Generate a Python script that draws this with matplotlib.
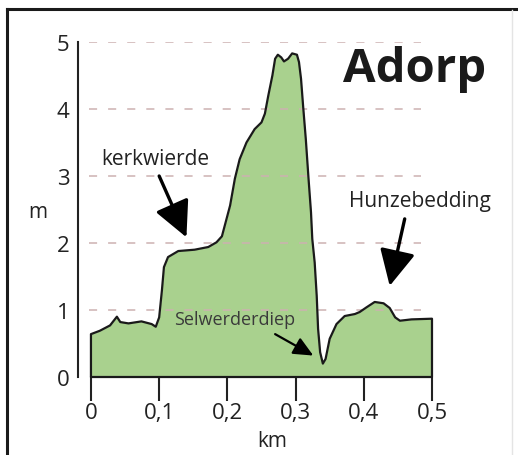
import matplotlib
matplotlib.use('Agg')
import matplotlib.pyplot as plt
from matplotlib.lines import Line2D

plt.rcParams['font.family'] = ['Open Sans', 'DejaVu Sans']

# ---- data ----
distance_km = [0.0, 0.013, 0.028, 0.038, 0.043, 0.055, 0.074, 0.089, 0.095, 0.100,
               0.104, 0.107, 0.113, 0.128, 0.152, 0.172, 0.184, 0.192, 0.204, 0.211,
               0.218, 0.228, 0.240, 0.250, 0.255, 0.260, 0.266, 0.270, 0.274, 0.279,
               0.283, 0.289, 0.295, 0.302, 0.305, 0.308, 0.311, 0.315, 0.319, 0.3226,
               0.3245, 0.328, 0.331, 0.333, 0.336, 0.340, 0.344, 0.350, 0.360, 0.372,
               0.387, 0.394, 0.404, 0.416, 0.429, 0.438, 0.446, 0.453, 0.470, 0.500]
elevation_m = [0.64, 0.69, 0.77, 0.90, 0.82, 0.80, 0.83, 0.79, 0.75, 0.89,
               1.29, 1.64, 1.79, 1.88, 1.90, 1.94, 2.01, 2.10, 2.56, 2.96,
               3.25, 3.50, 3.70, 3.80, 3.93, 4.20, 4.50, 4.75, 4.81, 4.77,
               4.71, 4.75, 4.83, 4.81, 4.70, 4.45, 4.05, 3.55, 2.96, 2.46,
               2.06, 1.71, 1.21, 0.72, 0.37, 0.20, 0.27, 0.57, 0.79, 0.91,
               0.94, 0.97, 1.04, 1.12, 1.10, 1.03, 0.89, 0.84, 0.86, 0.87]

x_ticks = [0, 0.1, 0.2, 0.3, 0.4, 0.5]
x_tick_labels = ['0', '0,1', '0,2', '0,3', '0,4', '0,5']
y_ticks = [0, 1, 2, 3, 4, 5]
y_tick_labels = ['0', '1', '2', '3', '4', '5']
grid_levels = [1, 2, 3, 4, 5]

title = 'Adorp'
x_label = 'km'
y_label = 'm'
label_kerk = 'kerkwierde'
label_hunze = 'Hunzebedding'
label_selw = 'Selwerderdiep'

# ---- figure ----
W, H = 518, 456
fig = plt.figure(figsize=(W / 100, H / 100), dpi=100)
ax = fig.add_axes([78 / W, (H - 378) / H, 357.4 / W, 335 / H])
ax.set_xlim(-0.019, 0.505)
ax.set_ylim(0, 5)

green = '#a9d18e'
ink = '#1a1a1a'

ax.fill_between(distance_km, elevation_m, 0, color=green, lw=0, zorder=1, clip_on=False)
outline_x = [distance_km[0]] + distance_km + [distance_km[-1], distance_km[0]]
outline_y = [0] + elevation_m + [0, 0]
ax.plot(outline_x, outline_y, color=ink, lw=1.6, solid_joinstyle='round',
        solid_capstyle='round', zorder=3, clip_on=False)

for lev in grid_levels:
    ax.axhline(lev, xmin=0.03, xmax=0.96, color='#cdb1b1', lw=1.1,
               linestyle=(0, (5.3, 7.2)), zorder=2)

for side in ['top', 'right', 'bottom']:
    ax.spines[side].set_visible(False)
ax.spines['left'].set_color('#222222')
ax.spines['left'].set_linewidth(1.5)

ax.set_xticks(x_ticks)
ax.set_xticklabels(x_tick_labels)
ax.set_yticks(y_ticks)
ax.set_yticklabels(y_tick_labels)
ax.tick_params(axis='x', length=17, width=1.5, color='#222222', pad=1,
               labelsize=16, labelcolor='#222222')
ax.tick_params(axis='y', length=0, pad=6, labelsize=16, labelcolor='#222222')
ax.set_facecolor('none')

ax.text(0.265, -1.03, x_label, ha='center', va='baseline', fontsize=15, color='#222222')
ax.text(-0.078, 2.39, y_label, ha='center', va='baseline', fontsize=15, color='#222222')

ax.text(0.475, 4.418, title, ha='center', va='baseline', fontsize=34,
        fontweight='bold', color=ink)

ax.text(0.094, 3.18, label_kerk, ha='center', va='baseline', fontsize=15, color='#222222')
ax.annotate('', xy=(0.140, 2.085), xytext=(0.100, 3.0),
            arrowprops=dict(arrowstyle='-|>,head_length=1.1,head_width=0.55',
                            mutation_scale=20, lw=2.4, color='black',
                            shrinkA=0, shrinkB=0))

ax.text(0.482, 2.55, label_hunze, ha='center', va='baseline', fontsize=15, color='#222222')
ax.annotate('', xy=(0.438, 1.36), xytext=(0.460, 2.36),
            arrowprops=dict(arrowstyle='-|>,head_length=1.1,head_width=0.55',
                            mutation_scale=20, lw=2.4, color='black',
                            shrinkA=0, shrinkB=0))

ax.text(0.210, 0.79, label_selw, ha='center', va='baseline', fontsize=13, color='#3a3a3a',
        zorder=4)
ax.annotate('', xy=(0.326, 0.32), xytext=(0.270, 0.64),
            arrowprops=dict(arrowstyle='-|>,head_length=1.2,head_width=0.55',
                            mutation_scale=10, lw=1.6, color='black',
                            shrinkA=0, shrinkB=0), zorder=4)

# frame of the original picture
fig.add_artist(Line2D([7 / W, 7 / W], [0, (H - 10) / H], transform=fig.transFigure,
                      color=ink, lw=2.2))
fig.add_artist(Line2D([7 / W, 1], [(H - 10) / H, (H - 10) / H], transform=fig.transFigure,
                      color=ink, lw=2.2))
fig.add_artist(Line2D([512 / W, 512 / W], [0, (H - 11) / H],
                      transform=fig.transFigure, color='#e4e4e4', lw=1))

fig.savefig('out.png', dpi=100)
